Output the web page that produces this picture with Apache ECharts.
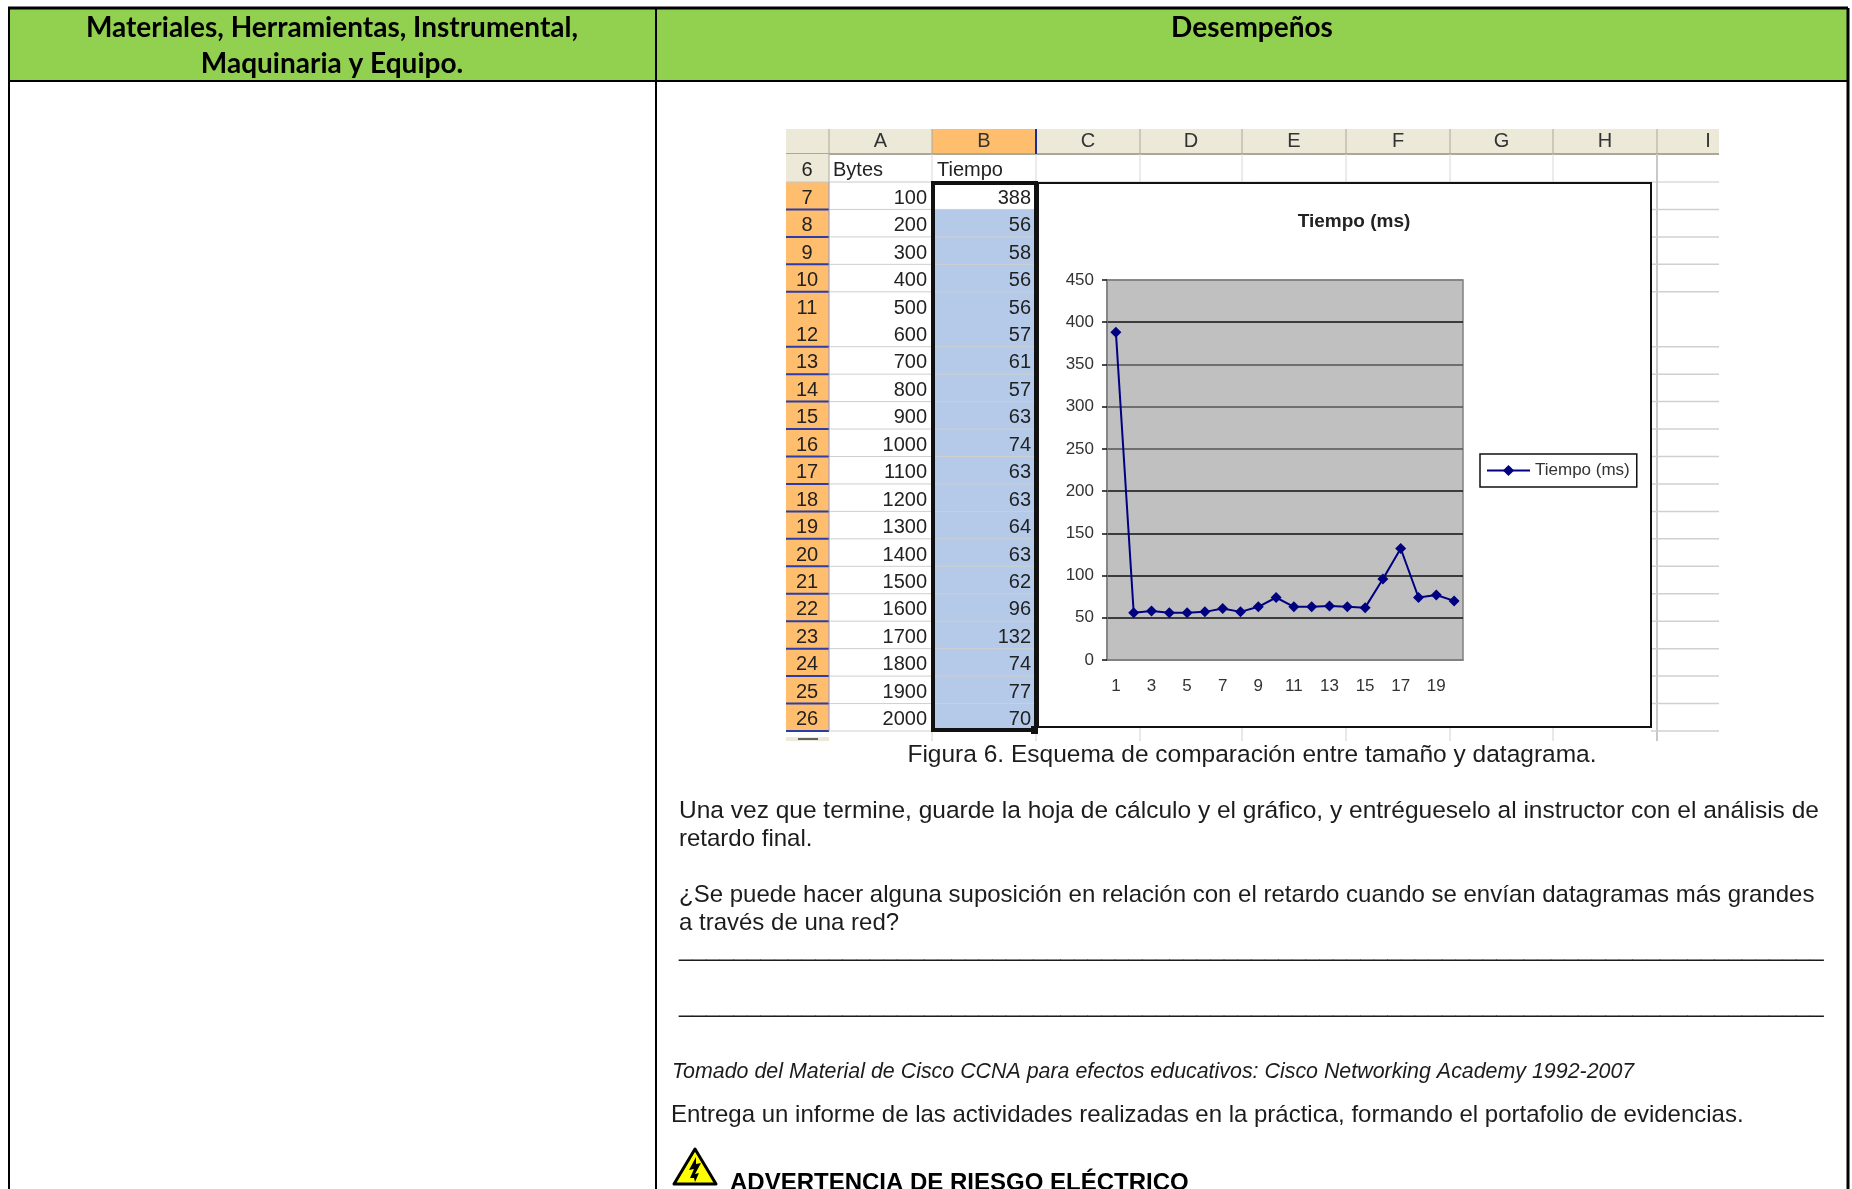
<!DOCTYPE html>
<html lang="es">
<head>
<meta charset="utf-8">
<title>Tiempo (ms)</title>
<script src="https://cdn.jsdelivr.net/npm/echarts@6/dist/echarts.min.js"></script>
<style>html,body{margin:0;padding:0;background:#fff}#c{width:1852px;height:1189px}</style>
</head>
<body>
<div id="c"></div>
<script>
// ---- data ----
var points = ['1','2','3','4','5','6','7','8','9','10','11','12','13','14','15','16','17','18','19','20'];
var tiempo = [388,56,58,56,56,57,61,57,63,74,63,63,64,63,62,96,132,74,77,70];
var bytes = [100,200,300,400,500,600,700,800,900,1000,1100,1200,1300,1400,1500,1600,1700,1800,1900,2000];
var rowNames = ['7','8','9','10','11','12','13','14','15','16','17','18','19','20','21','22','23','24','25','26'];
var columnNames = ['A','B','C','D','E','F','G','H','I'];
var seriesName = 'Tiempo (ms)';
var headerLeft = ['Materiales, Herramientas, Instrumental,', 'Maquinaria y Equipo.'];
var headerRight = 'Desempeños';
var caption = 'Figura 6. Esquema de comparación entre tamaño y datagrama.';
var paragraphs = [
  'Una vez que termine, guarde la hoja de cálculo y el gráfico, y entrégueselo al instructor con el análisis de',
  'retardo final.',
  '¿Se puede hacer alguna suposición en relación con el retardo cuando se envían datagramas más grandes',
  'a través de una red?'
];
var answerLine = '_'.repeat(84);
var sourceNote = 'Tomado del Material de Cisco CCNA para efectos educativos: Cisco Networking Academy 1992-2007';
var delivery = 'Entrega un informe de las actividades realizadas en la práctica, formando el portafolio de evidencias.';
var warning = 'ADVERTENCIA DE RIESGO ELÉCTRICO';

// ---- page furniture (drawn behind the chart) ----
var SANS = '"Liberation Sans", Arial, sans-serif';
var els = [];
function rect(x,y,w,h,fill,stroke,lw){els.push({type:'rect',z:-1,silent:true,shape:{x:x,y:y,width:w,height:h},style:{fill:fill||'transparent',stroke:stroke||null,lineWidth:lw||0}});}
function line(x1,y1,x2,y2,c,lw){els.push({type:'line',z:-1,silent:true,shape:{x1:x1,y1:y1,x2:x2,y2:y2},style:{stroke:c,lineWidth:lw||1}});}
function text(t,x,y,font,align,fill){els.push({type:'text',z:-1,silent:true,style:{text:t,x:x,y:y,font:font,align:align||'left',verticalAlign:'middle',fill:fill||'#1c1c1c'}});}

// document table
rect(8,8,1840,72,'#92D050');
line(8,8,1848,8,'#000',3); line(8,81,1848,81,'#000',2);
line(9,8,9,1189,'#000',2); line(656,8,656,1189,'#000',2); line(1848,8,1848,1189,'#000',3);
var HF = 'bold 28px Lato, sans-serif';
text(headerLeft[0],332,28,HF,'center','#000');
text(headerLeft[1],332,64,HF,'center','#000');
text(headerRight,1252,28,HF,'center','#000');

// spreadsheet
var colX = [829,932,1036,1140,1242,1346,1450,1553,1657,1719];
var rowTop = 182, rowH = 27.45, headTop = 129, headBot = 154, rowHeadL = 786, rowHeadR = 829;
var sheetBot = rowTop + rowH*20;
var F = '20px ' + SANS;
rect(rowHeadL,headTop,colX[9]-rowHeadL,headBot-headTop,'#ECE9D8');
rect(colX[1],headTop,colX[2]-colX[1],headBot-headTop,'#FFBE6E');
line(rowHeadL,headBot,colX[9],headBot,'#ACA899',2);
rect(rowHeadL,headBot,rowHeadR-rowHeadL,rowTop-headBot,'#ECE9D8');
rect(rowHeadL,rowTop,rowHeadR-rowHeadL,sheetBot-rowTop,'#FFBE6E');
rect(colX[1],rowTop+rowH,colX[2]-colX[1],rowH*19,'#B5CAE8');
rect(rowHeadL,sheetBot+6,rowHeadR-rowHeadL,4,'#ECE9D8');
line(798,sheetBot+8,818,sheetBot+8,'#333',1.5);
columnNames.forEach(function(n,i){
  if(i<8) line(colX[i+1],headTop,colX[i+1],headBot,i==1?'#1a2f9c':'#ACA899',i==1?2:1);
  text(n,i==8?1708:(colX[i]+colX[i+1])/2,141,F,'center','#333');
});
line(rowHeadR,headTop,rowHeadR,rowTop,'#ACA899',1);
colX.slice(1,9).forEach(function(x){ line(x,headBot,x,rowTop,'#D8D8D8',1); line(x,sheetBot-4,x,sheetBot+10,'#D0D0D0',1); });
line(1657,headBot,1657,sheetBot+10,'#C8C8C8',2);
line(rowHeadL,rowTop,colX[9],rowTop,'#C8C8C8',1);
rowNames.forEach(function(n,i){
  var y=rowTop+rowH*i, b=y+rowH, c=y+rowH/2+2.5;
  if(i!=4){
    line(colX[0],b,colX[2],b,'#CFCFCF',1);
    line(1651,b,colX[9],b,'#D0D0D0',1.5);
    line(rowHeadL,b,rowHeadR,b,'#2A3DA8',2);
  }
  text(n,807,c,F,'center','#222');
  text(String(bytes[i]),927,c,F,'right','#222');
  text(String(tiempo[i]),1031,c,F,'right','#222');
});
line(rowHeadR,rowTop,rowHeadR,sheetBot,'#8F93C8',1);
text('Bytes',833,170,F,'left','#222');
text('Tiempo',937,170,F,'left','#222');
text('6',807,170,F,'center','#222');
rect(933,rowTop+1,103,sheetBot-rowTop-2,'transparent','#111',4);
rect(1031,sheetBot-5,7,8,'#111');
// chart object frame
rect(1038,183,613,544,'#fff','#111',2);

// text under the chart
var B = '24.5px ' + SANS, B2 = '24px ' + SANS;
text(caption,1252,755,B,'center');
text(paragraphs[0],679,811,B); text(paragraphs[1],679,839,B2);
text(paragraphs[2],679,895,B2); text(paragraphs[3],679,923,B2);
text(answerLine,679,949,B); text(answerLine,679,1005,B);
text(sourceNote,672,1072,'italic 21.4px '+SANS);
text(delivery,671,1115,B2);
text(warning,730,1183,'bold 24px '+SANS,'left','#000');
// warning triangle
els.push({type:'polygon',z:-1,silent:true,shape:{points:[[695,1149],[716,1184],[674,1184]]},style:{fill:'#FFFF00',stroke:'#000',lineWidth:3,lineJoin:'round'}});
els.push({type:'polygon',z:-1,silent:true,shape:{points:[[696,1157],[689,1170],[694,1169],[690,1178],[694,1178],[695,1182],[699,1173],[695,1174],[701,1163],[696,1164]]},style:{fill:'#000'}});

var chart = echarts.init(document.getElementById('c'));
chart.setOption({
  animation:false,
  backgroundColor:'#fff',
  title:{text:seriesName,left:1349,top:207,textAlign:'center',textStyle:{fontFamily:SANS,fontSize:19,fontWeight:'bold',color:'#222'}},
  legend:{show:true,left:1480,top:454,orient:'horizontal',data:[seriesName],itemWidth:43,itemHeight:14,padding:[8,7,8,6],
    borderColor:'#111',borderWidth:1.5,borderRadius:0,backgroundColor:'#fff',
    textStyle:{fontFamily:SANS,fontSize:17,color:'#333'}},
  grid:{left:1107,top:280,width:356,height:380,show:true,backgroundColor:'#C0C0C0',borderColor:'#808080',borderWidth:1.5,containLabel:false},
  xAxis:{type:'category',data:points,
    axisLine:{lineStyle:{color:'#808080',width:1.5}},
    axisTick:{interval:0,length:5,lineStyle:{color:'#111',width:1.5}},
    axisLabel:{interval:1,margin:18,fontFamily:SANS,fontSize:17,color:'#333'},
    splitLine:{show:false}},
  yAxis:{type:'value',min:0,max:450,interval:50,
    axisLine:{show:true,lineStyle:{color:'#808080',width:1.5}},
    axisTick:{show:true,length:5,lineStyle:{color:'#111',width:1.5}},
    axisLabel:{margin:13,fontFamily:SANS,fontSize:17,color:'#333'},
    splitLine:{show:true,lineStyle:{width:1.5,color:['#808080','#111','#111','#111','#111','#555','#555','#555','#111','#808080']}}},
  series:[{name:seriesName,type:'line',data:tiempo,color:'#000080',symbol:'diamond',symbolSize:11,
    lineStyle:{color:'#000080',width:2},itemStyle:{color:'#000080'}}],
  graphic:{elements:els}
});
</script>
</body>
</html>
